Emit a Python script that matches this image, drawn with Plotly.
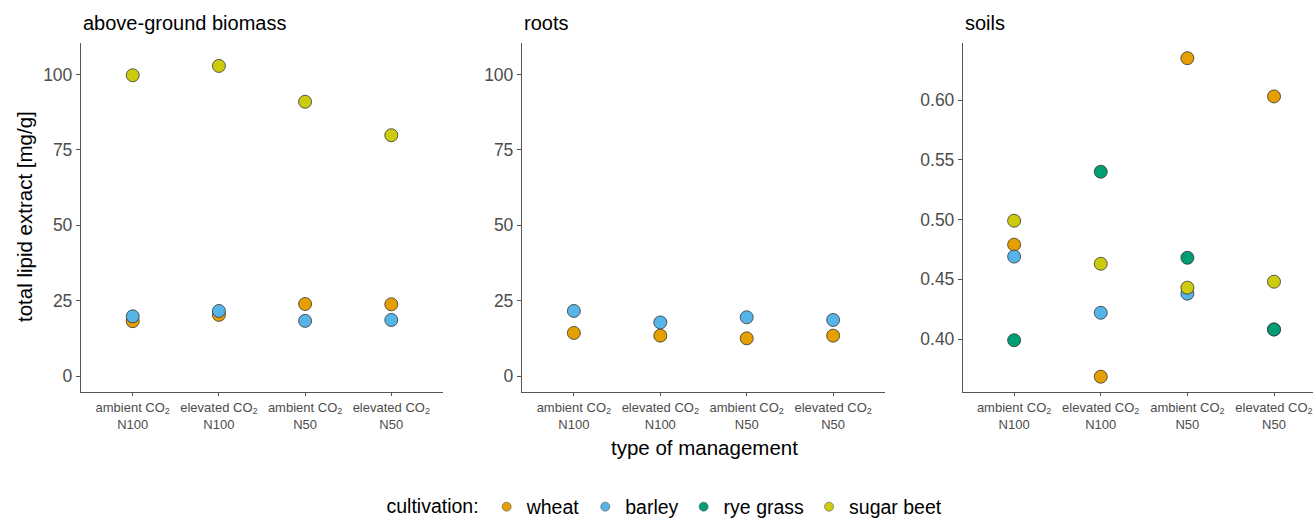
import plotly.graph_objects as go

# Management treatments (x categories) and cultivation groups
treatments = ["ambient CO<sub>2</sub><br>N100", "elevated CO<sub>2</sub><br>N100",
              "ambient CO<sub>2</sub><br>N50", "elevated CO<sub>2</sub><br>N50"]
crops = ["wheat", "barley", "rye grass", "sugar beet"]
crop_colors = {"wheat": "#E69F00", "barley": "#56B4E9",
               "rye grass": "#009E73", "sugar beet": "#CDCB0E"}

# total lipid extract [mg/g], above-ground biomass
biomass_wheat = [18.2, 20.3, 23.9, 23.8]
biomass_barley = [19.8, 21.6, 18.3, 18.6]
biomass_sugar_beet = [99.8, 102.9, 91.0, 79.9]

# roots
roots_wheat = [14.3, 13.4, 12.5, 13.4]
roots_barley = [21.6, 17.8, 19.5, 18.6]

# soils
soils_wheat = [0.479, 0.3685, 0.635, 0.603]
soils_barley = [0.469, 0.422, 0.438, 0.408]
soils_rye_grass = [0.399, 0.540, 0.468, 0.408]
soils_sugar_beet = [0.499, 0.463, 0.443, 0.448]

panels = [
    ("above-ground biomass", {"wheat": biomass_wheat, "barley": biomass_barley,
                              "sugar beet": biomass_sugar_beet}),
    ("roots", {"wheat": roots_wheat, "barley": roots_barley}),
    ("soils", {"wheat": soils_wheat, "barley": soils_barley,
               "rye grass": soils_rye_grass, "sugar beet": soils_sugar_beet}),
]

W, H = 1314, 519
def px_x(v): return v / W
def px_y(v): return (H - v) / H

FONT = "Liberation Sans, Arial"
x_domains = [(81, 443), (522, 885), (963, 1313)]
x_ranges = [[-0.6, 3.6], [-0.6, 3.6], [-0.59, 3.45]]
y_ranges = [[-5.3, 110.5], [-5.3, 110.5], [0.3557, 0.6477]]
y_ticks = [[0, 25, 50, 75, 100], [0, 25, 50, 75, 100],
           [0.40, 0.45, 0.50, 0.55, 0.60]]
y_fmt = ["d", "d", ".2f"]
plot_top, plot_bottom = 43, 392

fig = go.Figure()
axis_col = "#555555"
tick_col = "#4d4d4d"

for i, (title, series) in enumerate(panels):
    sfx = "" if i == 0 else str(i + 1)
    for crop in crops:
        if crop not in series:
            continue
        fig.add_trace(go.Scatter(
            x=treatments, y=series[crop], mode="markers",
            xaxis="x" + sfx, yaxis="y" + sfx, showlegend=False,
            marker=dict(size=13, color=crop_colors[crop],
                        line=dict(color="#333333", width=0.8)),
            name=crop,
        ))
    fig.update_layout({
        "xaxis" + sfx: dict(
            domain=[px_x(x_domains[i][0]), px_x(x_domains[i][1])],
            anchor="y" + sfx, type="category", categoryorder="array",
            categoryarray=treatments, range=x_ranges[i],
            showline=True, linecolor=axis_col, linewidth=1.3,
            ticks="outside", ticklen=3, tickcolor=axis_col, tickwidth=1,
            showgrid=False, zeroline=False,
            tickfont=dict(family=FONT, size=13, color=tick_col),
        ),
        "yaxis" + sfx: dict(
            domain=[px_y(plot_bottom), px_y(plot_top)],
            anchor="x" + sfx, range=y_ranges[i],
            tickvals=y_ticks[i], tickformat=y_fmt[i],
            showline=True, linecolor=axis_col, linewidth=1.3,
            ticks="outside", ticklen=4, tickcolor=axis_col, tickwidth=1,
            showgrid=False, zeroline=False,
            tickfont=dict(family=FONT, size=17.5, color=tick_col),
        ),
    })
    fig.add_annotation(
        text=title, xref="paper", yref="paper",
        x=px_x(x_domains[i][0]), y=px_y(plot_top - 7),
        xanchor="left", yanchor="bottom", showarrow=False,
        font=dict(family=FONT, size=20, color="black"),
    )

# legend entries with smaller keys
for crop in crops:
    fig.add_trace(go.Scatter(
        x=[None], y=[None], mode="markers", name=crop,
        marker=dict(size=9, color=crop_colors[crop],
                    line=dict(color="#555555", width=0.6)),
        showlegend=True,
    ))

fig.add_annotation(
    text="total lipid extract [mg/g]", xref="paper", yref="paper",
    x=px_x(24), y=px_y(217), textangle=-90, showarrow=False,
    xanchor="center", yanchor="middle",
    font=dict(family=FONT, size=20.5, color="black"),
)
fig.add_annotation(
    text="type of management", xref="paper", yref="paper",
    x=px_x(704), y=px_y(447), showarrow=False,
    xanchor="center", yanchor="middle",
    font=dict(family=FONT, size=20.5, color="black"),
)

fig.update_layout(
    width=W, height=H,
    margin=dict(l=0, r=0, t=0, b=0, autoexpand=False),
    paper_bgcolor="white", plot_bgcolor="white",
    showlegend=True,
    legend=dict(
        orientation="h", x=px_x(666), y=px_y(507), xanchor="center", yanchor="middle",
        title=dict(text="cultivation:", font=dict(family=FONT, size=19.5, color="black")),
        font=dict(family=FONT, size=19.5, color="black"),
        itemsizing="trace", tracegroupgap=0, itemwidth=30,
    ),
    font=dict(family=FONT),
)

fig.write_html("out.html")
